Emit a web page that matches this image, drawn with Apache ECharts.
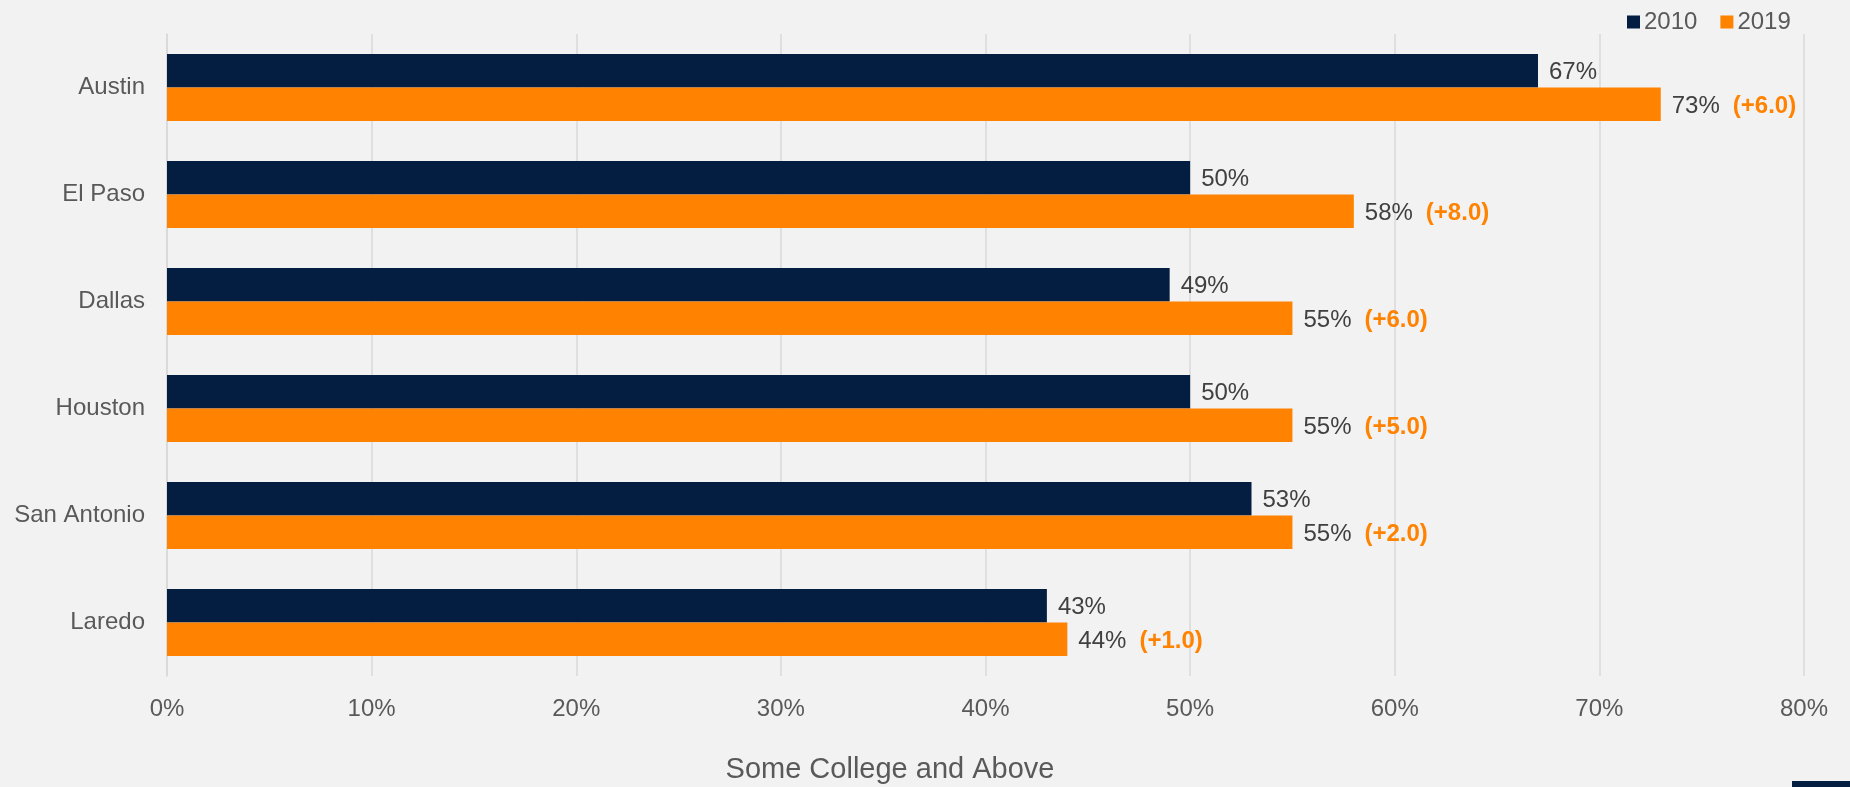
<!DOCTYPE html>
<html>
<head>
<meta charset="utf-8">
<script src="https://cdn.jsdelivr.net/npm/echarts@6/dist/echarts.min.js"></script>
<style>
html,body{margin:0;padding:0;background:#F2F2F2;}
#c{width:1850px;height:787px;}
</style>
</head>
<body>
<div id="c"></div>
<script>
const cities = ["Austin", "El Paso", "Dallas", "Houston", "San Antonio", "Laredo"];
const values2010 = [67, 50, 49, 50, 53, 43];
const values2019 = [73, 58, 55, 55, 55, 44];
const changes = ["+6.0", "+8.0", "+6.0", "+5.0", "+2.0", "+1.0"];
const xTicks = [0, 10, 20, 30, 40, 50, 60, 70, 80];
const axisTitle = "Some College and Above";

const FONT = '"Liberation Sans", Arial, sans-serif';
const NAVY = '#041E42';
const ORANGE = '#FF8200';

const chart = echarts.init(document.getElementById('c'));
chart.setOption({
  backgroundColor: '#F2F2F2',
  textStyle: { fontFamily: FONT },
  animation: false,
  legend: {
    data: ['2010', '2019'],
    left: 1622,
    top: 5,
    icon: 'rect',
    itemWidth: 13,
    itemHeight: 13,
    itemGap: 23,
    textStyle: { fontSize: 24, color: '#595959', fontFamily: FONT, padding: [0, 0, 0, -1] }
  },
  grid: { left: 167, right: 46, top: 34, bottom: 111, containLabel: false },
  xAxis: {
    type: 'value',
    min: xTicks[0],
    max: xTicks[xTicks.length - 1],
    interval: 10,
    axisLine: { show: false },
    axisTick: { show: false },
    axisLabel: { formatter: '{value}%', fontSize: 24, color: '#595959', margin: 21, fontFamily: FONT },
    splitLine: { show: true, lineStyle: { color: '#D9D9D9', width: 1.5 } }
  },
  yAxis: {
    type: 'category',
    data: cities,
    inverse: true,
    axisLine: { show: true, lineStyle: { color: '#D9D9D9', width: 1.5 } },
    axisTick: { show: false },
    axisLabel: { fontSize: 24, color: '#595959', margin: 22, fontFamily: FONT },
    splitLine: { show: false }
  },
  series: [
    {
      name: '2010',
      type: 'bar',
      data: values2010,
      barWidth: 33.5,
      barGap: '0%',
      itemStyle: { color: NAVY },
      label: {
        show: true,
        position: 'right',
        distance: 11,
        offset: [0, 2],
        formatter: p => p.value + '%',
        fontSize: 24,
        color: '#404040',
        fontFamily: FONT
      }
    },
    {
      name: '2019',
      type: 'bar',
      data: values2019,
      barWidth: 33.5,
      barGap: '0%',
      itemStyle: { color: ORANGE },
      label: {
        show: true,
        position: 'right',
        distance: 11,
        offset: [0, 2],
        formatter: p => '{v|' + p.value + '%}{d|(' + changes[p.dataIndex] + ')}',
        rich: {
          v: { fontSize: 24, color: '#404040', fontFamily: FONT, padding: [0, 13, 0, 0] },
          d: { fontSize: 24, color: ORANGE, fontWeight: 'bold', fontFamily: FONT }
        }
      }
    }
  ],
  graphic: [
    {
      type: 'text',
      x: 890,
      y: 770,
      style: {
        text: axisTitle,
        fontSize: 29,
        fill: '#595959',
        fontFamily: FONT,
        align: 'center',
        verticalAlign: 'middle'
      }
    },
    {
      type: 'rect',
      shape: { x: 1792, y: 781, width: 58, height: 6 },
      style: { fill: NAVY }
    }
  ]
});
</script>
</body>
</html>
